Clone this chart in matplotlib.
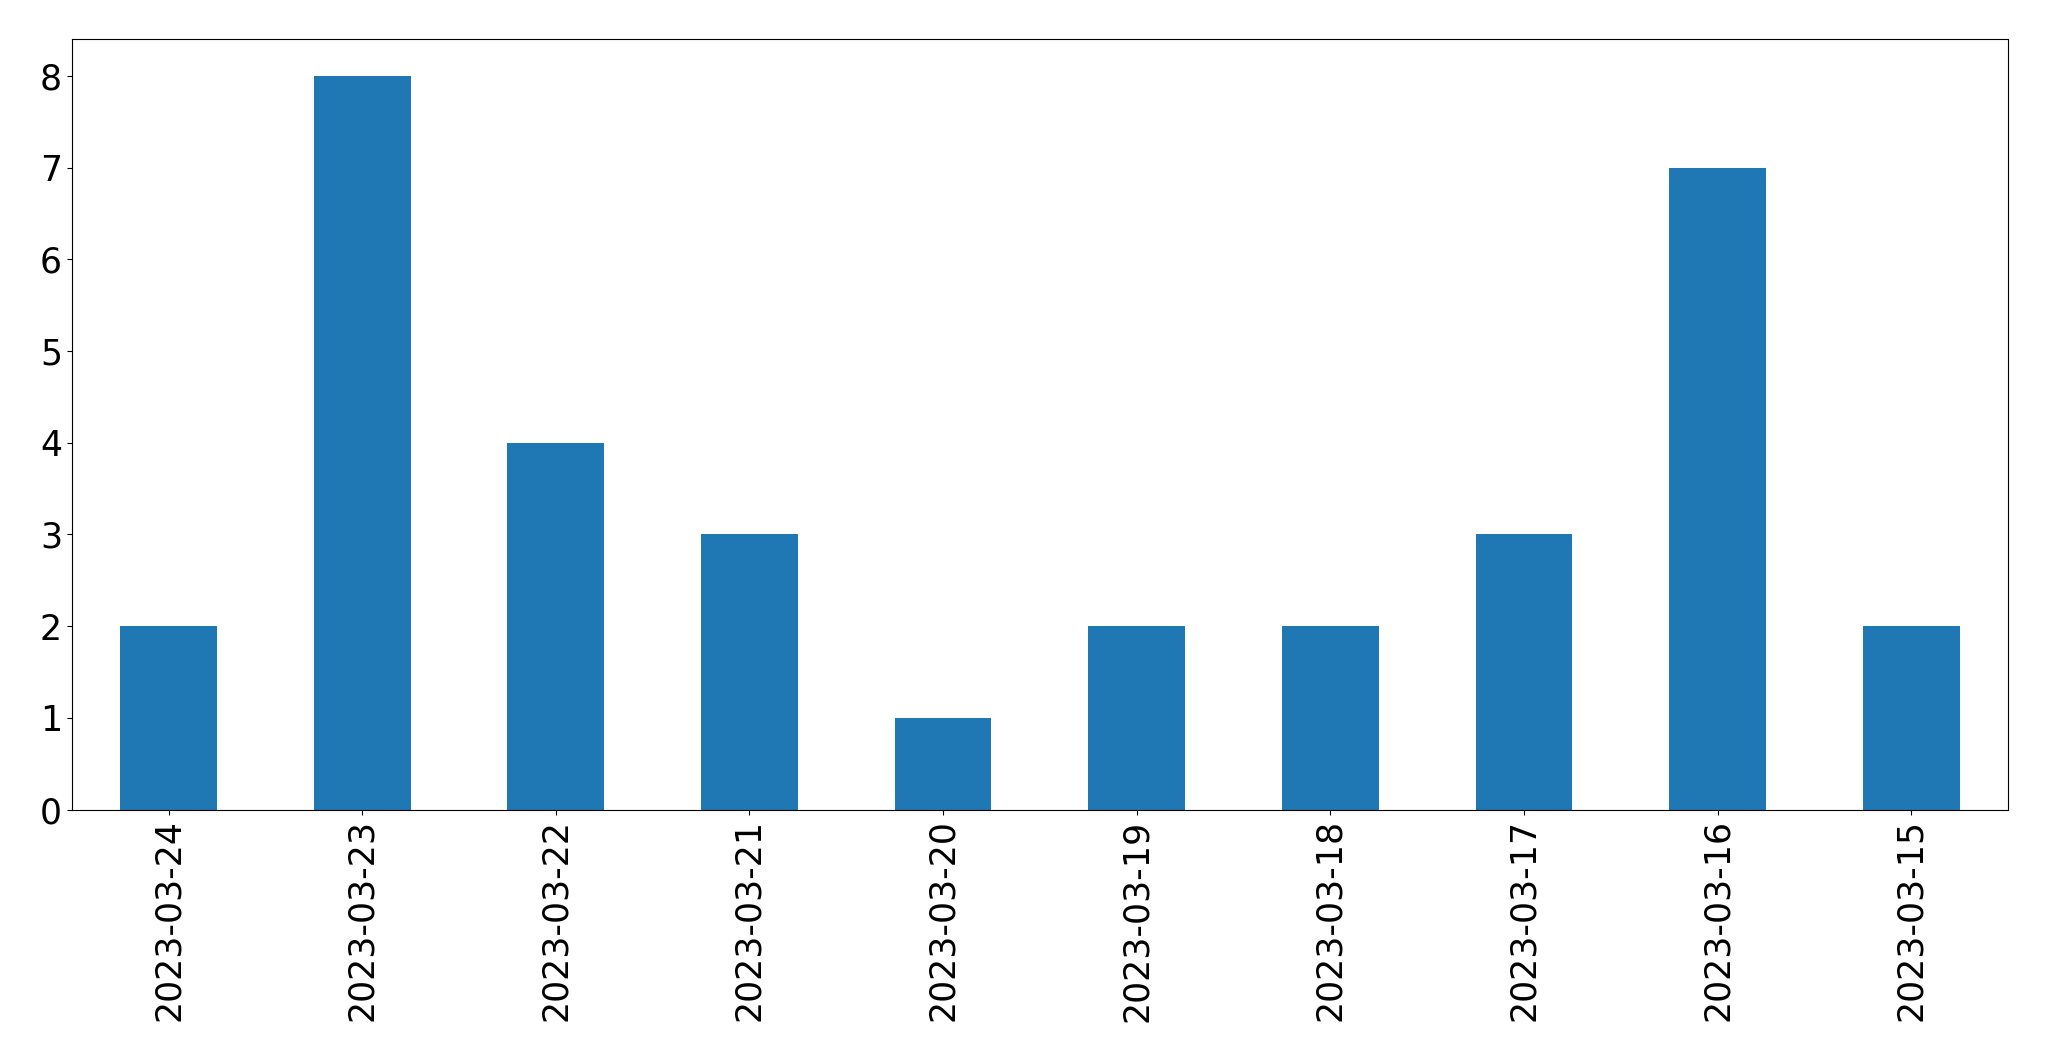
import matplotlib
matplotlib.use("Agg")
import matplotlib.pyplot as plt
import numpy as np

dates = ["2023-03-24", "2023-03-23", "2023-03-22", "2023-03-21", "2023-03-20",
         "2023-03-19", "2023-03-18", "2023-03-17", "2023-03-16", "2023-03-15"]
counts = [2, 8, 4, 3, 1, 2, 2, 3, 7, 2]

fig = plt.figure(figsize=(20.49, 10.61), dpi=100)
ax = fig.add_axes([0.035, 0.237, 0.945, 0.726])
x = np.arange(len(dates))
ax.bar(x, counts, width=0.5, color="#1f77b4")
ax.set_xlim(-0.5, len(dates) - 0.5)
ax.set_xticks(x)
ax.set_xticklabels(dates, rotation=90)
ax.tick_params(labelsize=25)
fig.savefig("out.png", dpi=100)
